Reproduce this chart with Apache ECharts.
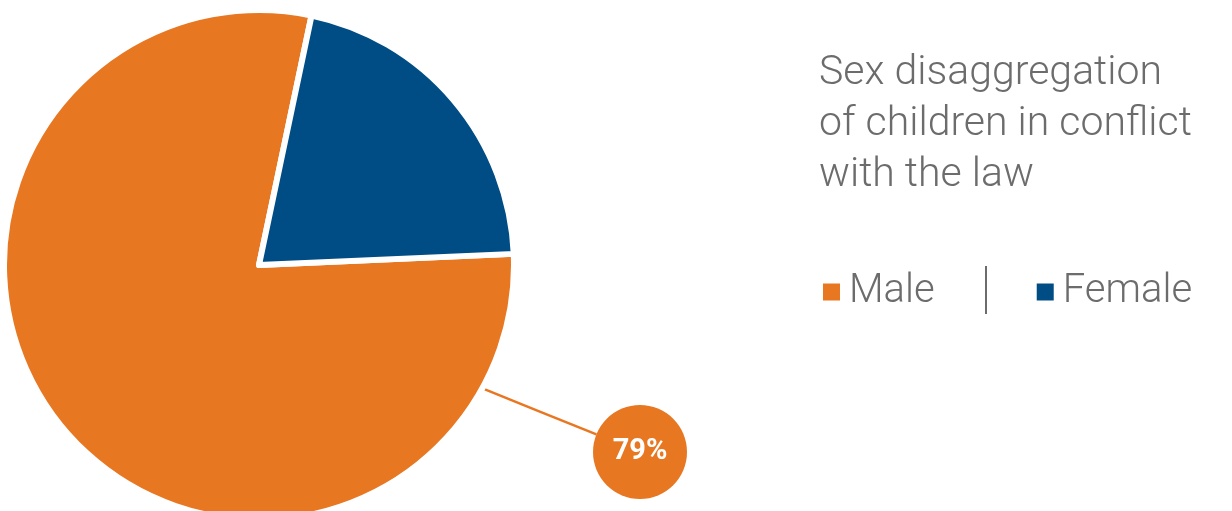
<!DOCTYPE html>
<html>
<head>
<meta charset="utf-8">
<script src="https://cdn.jsdelivr.net/npm/echarts@6/dist/echarts.min.js"></script>
<style>
  html, body { margin: 0; padding: 0; background: #ffffff; }
  #chart { width: 1232px; height: 511px; }
</style>
</head>
<body>
<div id="chart"></div>
<script>
// Share of children in conflict with the law, by sex (percent)
const categories = ['Male', 'Female'];
const shares = [79, 21];
const titleLines = ['Sex disaggregation', 'of children in conflict', 'with the law'];

const palette = ['#E87722', '#004C84'];
const textGrey = '#6D6C6C';
const font = 'Roboto, "Liberation Sans", sans-serif';

// Pie geometry (pixels)
const pieCenter = [259, 265];
const pieRadius = 255;
// Callout bubble for the Male share
const bubble = { x: 640, y: 452, r: 47, anchorDeg: 29 };

const chart = echarts.init(document.getElementById('chart'), null, { renderer: 'canvas' });

function calloutLine() {
  const a = bubble.anchorDeg * Math.PI / 180;
  const rr = pieRadius - 3;
  const ax = pieCenter[0] + rr * Math.cos(a);
  const ay = pieCenter[1] + rr * Math.sin(a);
  const dx = bubble.x - ax, dy = bubble.y - ay;
  const len = Math.sqrt(dx * dx + dy * dy);
  const ex = bubble.x - bubble.r * dx / len;
  const ey = bubble.y - bubble.r * dy / len;
  return [[ax, ay], [(ax + ex) / 2, (ay + ey) / 2], [ex, ey]];
}

chart.setOption({
  animation: false,
  color: palette,
  title: {
    text: titleLines.join('\n'),
    left: 814,
    top: 43,
    textStyle: {
      fontFamily: font,
      fontWeight: 300,
      fontSize: 41,
      lineHeight: 51,
      color: textGrey
    }
  },
  legend: {
    data: categories,
    left: 816,
    top: 267,
    icon: 'rect',
    itemWidth: 19,
    itemHeight: 19,
    itemGap: 100,
    selectedMode: false,
    textStyle: {
      fontFamily: font,
      fontWeight: 300,
      fontSize: 40,
      color: textGrey,
      padding: [0, 0, 0, 3]
    }
  },
  graphic: [{
    type: 'line',
    shape: { x1: 986, y1: 266, x2: 986, y2: 314 },
    style: { stroke: '#6D6C6C', lineWidth: 2 }
  }],
  series: [{
    type: 'pie',
    center: pieCenter,
    radius: pieRadius,
    startAngle: 2.5,
    clockwise: true,
    avoidLabelOverlap: false,
    itemStyle: { borderColor: '#ffffff', borderWidth: 6 },
    emphasis: { disabled: true },
    label: {
      show: true,
      position: 'outside',
      formatter: '{d}%',
      color: '#ffffff',
      fontFamily: font,
      fontWeight: 'bold',
      fontSize: 29,
      backgroundColor: palette[0],
      width: bubble.r * 2,
      height: bubble.r * 2,
      lineHeight: bubble.r * 2,
      borderRadius: bubble.r,
      align: 'center',
      verticalAlign: 'middle',
      padding: 0
    },
    labelLine: {
      show: true,
      lineStyle: { color: palette[0], width: 2.5 }
    },
    labelLayout: function (params) {
      if (params.dataIndex !== 0) return {};
      return {
        x: bubble.x,
        y: bubble.y,
        align: 'center',
        verticalAlign: 'middle',
        labelLinePoints: calloutLine()
      };
    },
    data: categories.map(function (name, i) {
      const item = { name: name, value: shares[i] };
      if (i !== 0) {
        item.label = { show: false };
        item.labelLine = { show: false };
      }
      return item;
    })
  }]
});
</script>
</body>
</html>
